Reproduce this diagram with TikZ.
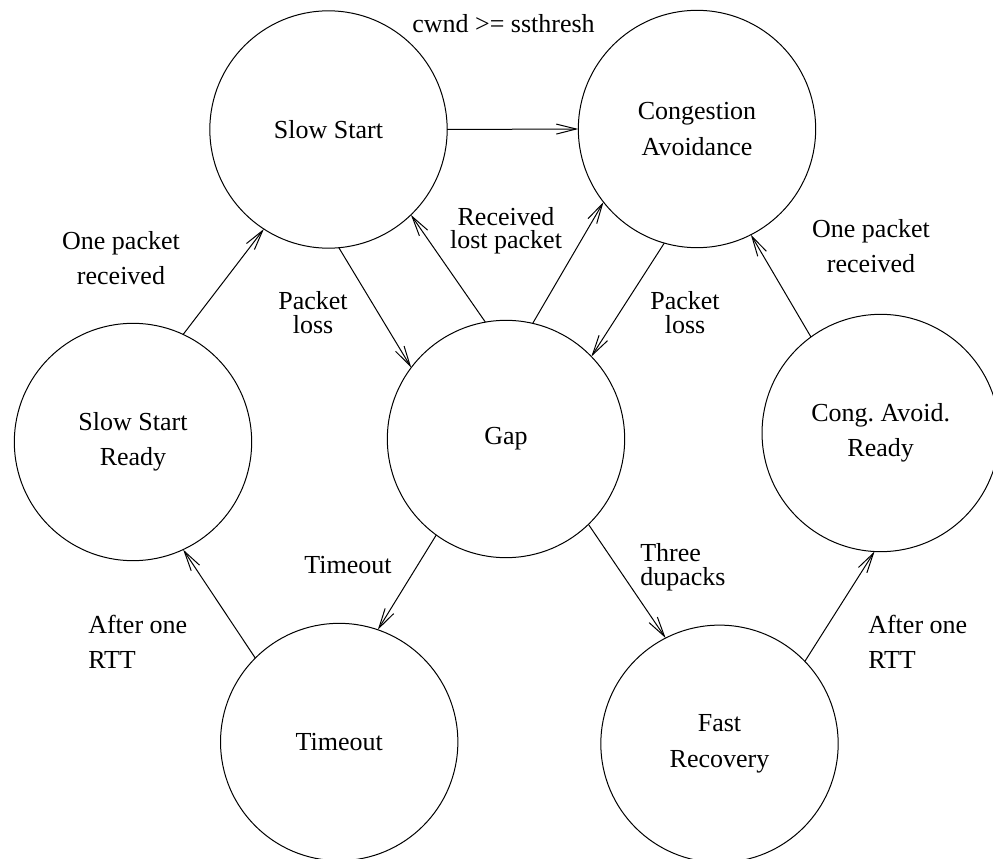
\documentclass[tikz,border=0pt]{standalone}
\usepackage{fontspec}
\setmainfont{Liberation Serif}
\usetikzlibrary{arrows.meta}
\frenchspacing
\begin{document}
\begin{tikzpicture}[x=0.75pt,y=-0.75pt,
  state/.style={draw, circle, minimum size=178pt, inner sep=0pt, outer sep=0pt,
    align=center, line width=0.75pt, font=\fontsize{19.5}{26.5}\selectfont},
  lbl/.style={inner sep=0pt, outer sep=0pt, font=\fontsize{19.5}{26.25}\selectfont},
  tight/.style={inner sep=0pt, outer sep=0pt, font=\fontsize{19.5}{17.6}\selectfont},
  edge/.style={line width=0.75pt, -{Straight Barb[length=15pt,width=7.5pt]}}]
\useasboundingbox (0,0) rectangle (993,859);

% states
\node[state] (ss)  at (328.5,129.5) {Slow Start};
\node[state] (ca)  at (697,129)     {Congestion\\Avoidance};
\node[state] (ssr) at (133,442)     {Slow Start\\Ready};
\node[state] (gap) at (506,439)     {Gap};
\node[state] (car) at (880.7,433)   {Cong.\ Avoid.\\Ready};
\node[state] (to)  at (339.2,742)   {Timeout};
\node[state] (fr)  at (719.5,743.8) {Fast\\Recovery};

% transitions
\draw[edge] (ss.east) -- (ca.west);
\draw[edge] (ssr.65.3) -- (ss.237.3);
\draw[edge] (ss.275.1) -- (gap.143.2);
\draw[edge] (gap.100.9) -- (ss.314.2);
\draw[edge] (gap.77.7) -- (ca.218.6);
\draw[edge] (ca.254.5) -- (gap.44.2);
\draw[edge] (car.126.4) -- (ca.297.5);
\draw[edge] (gap.234.4) -- (to.71.1);
\draw[edge] (to.135) -- (ssr.295.5);
\draw[edge] (gap.314.6) -- (fr.117.2);
\draw[edge] (fr.44.2) -- (car.267.8);

% labels
\node[lbl, anchor=base] (lcw) at (503.5,33) {cwnd >= ssthresh};
\node[lbl, align=center] (lop1) at (121,258.6) {One packet\\received};
\node[tight, align=center] (lpl1) at (313,312.8) {Packet\\loss};
\node[tight, align=center] (lrl) at (506,231) {Received\\lost packet};
\node[tight, align=center] (lpl2) at (685,312.6) {Packet\\loss};
\node[lbl, align=center] (lop2) at (871,246.6) {One packet\\received};
\node[lbl, anchor=base] (lto) at (348,573.3) {Timeout};
\node[lbl, align=left, anchor=west] (lar1) at (88.3,641.9) {After one\\RTT};
\node[tight, align=left, anchor=west] (ltd) at (640.3,567.3) {Three\\dupacks};
\node[lbl, align=left, anchor=west] (lar2) at (868.3,641.9) {After one\\RTT};
\end{tikzpicture}
\end{document}
